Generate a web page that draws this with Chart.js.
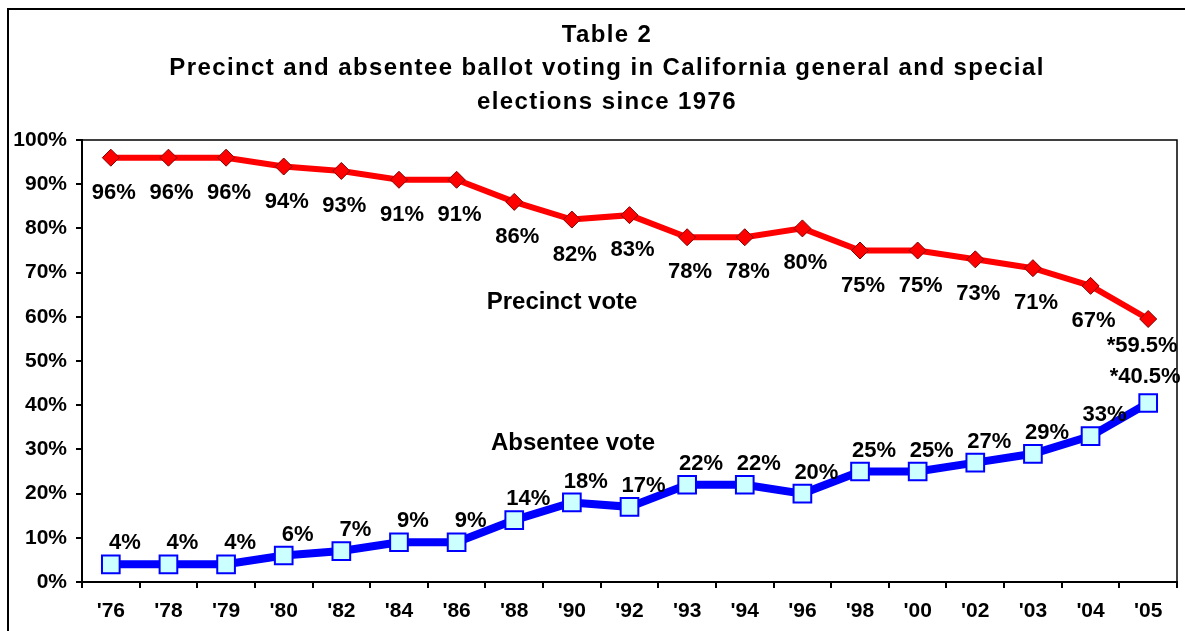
<!DOCTYPE html>
<html>
<head>
<meta charset="utf-8">
<script src="https://cdn.jsdelivr.net/npm/chart.js@4.4.1/dist/chart.umd.min.js"></script>
<style>
  body { margin: 0; background: #fff; }
  canvas { display: block; }
</style>
</head>
<body>
<canvas id="chart" width="1185" height="631"></canvas>
<script>
// data
const years = ["'76", "'78", "'79", "'80", "'82", "'84", "'86", "'88", "'90", "'92",
  "'93", "'94", "'96", "'98", "'00", "'02", "'03", "'04", "'05"]
const precinct = [96, 96, 96, 94, 93, 91, 91, 86, 82, 83, 78, 78, 80, 75, 75, 73, 71, 67, 59.5]
const absentee = [4, 4, 4, 6, 7, 9, 9, 14, 18, 17, 22, 22, 20, 25, 25, 27, 29, 33, 40.5]
const yTicks = [0, 10, 20, 30, 40, 50, 60, 70, 80, 90, 100]
const titleLines = [
  "Table 2",
  "Precinct and absentee ballot voting in California general and special",
  "elections since 1976",
]
const noteMark = "*" // last year is flagged in the source

const FONT = "'Liberation Sans', Arial, sans-serif"

function labelText(v, i) {
  return (i === years.length - 1 ? noteMark : "") + v + "%"
}

const extras = {
  id: "extras",
  beforeDraw(chart) {
    const ctx = chart.ctx
    ctx.save()
    ctx.fillStyle = "#fff"
    ctx.fillRect(0, 0, chart.width, chart.height)
    // outer frame
    ctx.strokeStyle = "#000"
    ctx.lineWidth = 2
    ctx.strokeRect(8, 9, 1200, 660)
    ctx.restore()
  },
  afterDatasetsDraw(chart) {
    const ctx = chart.ctx
    const last = years.length - 1
    ctx.save()
    ctx.fillStyle = "#000"
    ctx.font = "bold 22px " + FONT
    ctx.textAlign = "center"
    ctx.textBaseline = "middle"

    chart.getDatasetMeta(0).data.forEach((pt, i) => {
      const dy = i === last ? 27 : 35
      const dx = i === last ? -6 : 3
      ctx.fillText(labelText(precinct[i], i), pt.x + dx, pt.y + dy)
    })
    chart.getDatasetMeta(1).data.forEach((pt, i) => {
      const dy = i === last ? -26 : -21
      const dx = i === last ? -3 : 14
      ctx.fillText(labelText(absentee[i], i), pt.x + dx, pt.y + dy)
    })

    // series captions
    const xs = chart.scales.x
    const ys = chart.scales.y
    ctx.font = "bold 24px " + FONT
    ctx.fillText("Precinct vote", xs.getPixelForValue(7.83), ys.getPixelForValue(63.3))
    ctx.fillText("Absentee vote", xs.getPixelForValue(8.02), ys.getPixelForValue(31.3))
    ctx.restore()
  },
  afterDraw(chart) {
    const ctx = chart.ctx
    const a = chart.chartArea
    ctx.save()
    // top and right edges of the plot box
    ctx.strokeStyle = "#000"
    ctx.lineWidth = 1.5
    ctx.beginPath()
    ctx.moveTo(a.left, a.top)
    ctx.lineTo(a.right, a.top)
    ctx.lineTo(a.right, a.bottom)
    ctx.stroke()

    // title
    ctx.fillStyle = "#000"
    ctx.font = "bold 24px " + FONT
    ctx.letterSpacing = "1.4px"
    ctx.textAlign = "center"
    ctx.textBaseline = "alphabetic"
    const baselines = [42, 75, 109]
    titleLines.forEach((t, i) => ctx.fillText(t, 607, baselines[i]))
    ctx.restore()
  },
}

new Chart(document.getElementById("chart"), {
  type: "line",
  data: {
    labels: years,
    datasets: [
      {
        label: "Precinct vote",
        data: precinct,
        borderColor: "#ff0000",
        borderWidth: 6,
        pointStyle: "rectRot",
        pointRadius: 8.5,
        pointBackgroundColor: "#ff0000",
        pointBorderColor: "#800000",
        pointBorderWidth: 1,
        tension: 0,
        clip: false,
      },
      {
        label: "Absentee vote",
        data: absentee,
        borderColor: "#0000ff",
        borderWidth: 8,
        pointStyle: "rect",
        pointRadius: 12.5,
        pointBackgroundColor: "#ccffff",
        pointBorderColor: "#0000ff",
        pointBorderWidth: 2,
        tension: 0,
        clip: false,
      },
    ],
  },
  options: {
    responsive: false,
    animation: false,
    devicePixelRatio: 1,
    layout: { autoPadding: false, padding: { top: 140, right: 8, left: 0, bottom: 0 } },
    plugins: {
      legend: { display: false },
      title: { display: false },
      tooltip: { enabled: false },
    },
    scales: {
      x: {
        offset: true,
        afterFit: (s) => { s.height = 49 },
        border: { color: "#000", width: 2 },
        grid: { offset: true, drawOnChartArea: false, tickLength: 6, color: "#000", lineWidth: 2 },
        ticks: { color: "#000", padding: 11, maxRotation: 0, font: { family: FONT, weight: "bold", size: 21 } },
      },
      y: {
        min: 0,
        max: 100,
        afterFit: (s) => { s.width = 82 },
        afterBuildTicks: (s) => { s.ticks = yTicks.map((v) => ({ value: v })) },
        border: { color: "#000", width: 2 },
        grid: { drawOnChartArea: false, tickLength: 6, color: "#000", lineWidth: 2 },
        ticks: {
          color: "#000",
          padding: 9,
          font: { family: FONT, weight: "bold", size: 21 },
          callback: (v) => v + "%",
        },
      },
    },
  },
  plugins: [extras],
})
</script>
</body>
</html>
